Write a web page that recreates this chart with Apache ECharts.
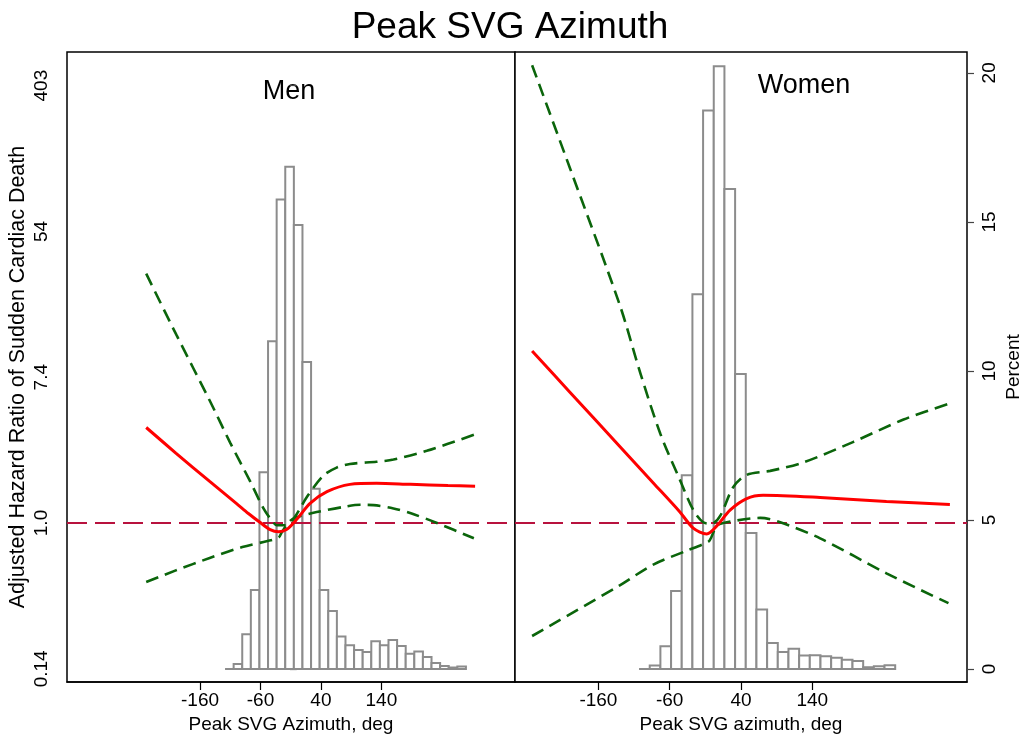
<!DOCTYPE html>
<html><head><meta charset="utf-8">
<script src="https://cdn.jsdelivr.net/npm/echarts@6/dist/echarts.min.js"></script>
<style>html,body{margin:0;padding:0;background:#fff}#c{width:1020px;height:738px}</style>
</head><body><div id="c"></div>
<script>
// ---- text ----
const chartTitle = 'Peak SVG Azimuth';
const panelNames = ['Men', 'Women'];
const xAxisNames = ['Peak SVG Azimuth, deg', 'Peak SVG azimuth, deg'];
const yLeftName = 'Adjusted Hazard Ratio of Sudden Cardiac Death';
const yRightName = 'Percent';

// ---- ticks ----
const xTicks = [-160, -60, 40, 140];
const hrTickLog = [-2, 0, 2, 4, 6];            // ln(HR)
const hrTickLabels = ['0.14', '1.0', '7.4', '54', '403'];
const pctTicks = [0, 5, 10, 15, 20];

// ---- histograms (percent per bin) ----
const menBinStart = -118.6, menBinWidth = 14.23;
const menPct = [0, 0.17, 1.17, 2.65, 6.6, 11.0, 15.75, 16.85, 14.9, 10.3, 6.05, 2.65, 1.95, 1.09,
  0.8, 0.64, 0.57, 0.93, 0.8, 0.97, 0.77, 0.51, 0.59, 0.4, 0.2, 0.1, 0.05, 0.08];
const womenBinStart = -103, womenBinWidth = 14.97;
const womenPct = [0, 0.12, 0.76, 2.62, 6.5, 12.57, 18.74, 20.22, 16.1, 9.9, 4.56, 2.0, 0.87, 0.57,
  0.68, 0.45, 0.46, 0.43, 0.38, 0.31, 0.27, 0.06, 0.09, 0.13];

// ---- spline curves: [azimuth deg, ln(HR)] ----
const menFit = [[-249,1.31],[-200,0.96],[-144,0.57],[-100,0.27],[-80,0.13],[-61,0.01],[-44,-0.09],[-30,-0.12],
  [-17,-0.09],[0,0.05],[22,0.27],[50,0.43],[88,0.53],[132,0.545],[188,0.53],[250,0.515],[295,0.505]];
const menUpper = [[-249,3.42],[-199,2.58],[-144,1.68],[-110,1.10],[-77,0.57],[-55,0.20],[-41,0.03],[-33,-0.03],
  [-19,-0.03],[-5,0.06],[17,0.36],[44,0.65],[66,0.76],[88,0.81],[132,0.84],[160,0.87],[215,0.99],[293,1.21]];
const menLower = [[-249,-0.81],[-200,-0.65],[-144,-0.48],[-90,-0.33],[-50,-0.25],[-30,-0.20],[-25,-0.13],
  [-11,0.03],[0,0.08],[33,0.15],[77,0.22],[105,0.25],[127,0.245],[160,0.20],[190,0.13],[232,0.0],[293,-0.21]];

const womenFit = [[-253,2.36],[-200,1.795],[-130,1.05],[-83,0.55],[-46,0.155],[-27,-0.07],[-8,-0.15],[6,-0.04],
  [25,0.18],[48,0.335],[71,0.38],[151,0.35],[244,0.295],[333,0.255]];
const womenUpper = [[-253,6.28],[-200,4.87],[-130,2.99],[-101,2.05],[-73,1.22],[-46,0.60],[-27,0.18],[-13,0.01],
  [-1,-0.01],[11,0.10],[29,0.49],[48,0.66],[81,0.715],[127,0.83],[197,1.11],[268,1.42],[333,1.64]];
const womenLower = [[-253,-1.55],[-130,-0.855],[-83,-0.57],[-36,-0.38],[-13,-0.29],[-4,-0.24],[6,-0.04],
  [20,0.01],[67,0.07],[95,0.01],[151,-0.21],[244,-0.69],[331,-1.1]];

// ---- styling / layout ----
const FONT = 'Liberation Sans, Arial, sans-serif';
const xRanges = [[-380, 361], [-277, 357]];
const lnRange = [-2.181, 6.461];
const pctRange = [-0.436, 20.70];

function histRender(start, width) {
  return function (params, api) {
    const i = api.value(0), pct = api.value(1);
    const p0 = api.coord([start + i * width, 0]);
    const p1 = api.coord([start + (i + 1) * width, pct]);
    return {
      type: 'rect',
      shape: { x: p0[0], y: p1[1], width: p1[0] - p0[0], height: p0[1] - p1[1] },
      style: { fill: '#ffffff', stroke: '#8c8c8c', lineWidth: 2 }
    };
  };
}
const hrFmt = v => { const i = hrTickLog.findIndex(t => Math.abs(t - v) < 1e-6); return i >= 0 ? hrTickLabels[i] : ''; };

function xAxisDef(k) {
  return {
    type: 'value', gridIndex: k, min: xRanges[k][0], max: xRanges[k][1],
    name: xAxisNames[k], nameLocation: 'middle', nameGap: 32,
    nameTextStyle: { fontSize: 19, fontFamily: FONT, color: '#000' },
    axisLine: { show: true, onZero: false, lineStyle: { color: '#000', width: 1.5 } },
    axisTick: { show: true, length: 8, customValues: xTicks, lineStyle: { color: '#000', width: 1.2 } },
    axisLabel: { customValues: xTicks, fontSize: 19, fontFamily: FONT, color: '#000', margin: 9 },
    splitLine: { show: false }
  };
}

const dashGreen = { color: '#0b650b', width: 2.6, type: [13, 7] };
function curve(data, xi, yi, style, extra) {
  return Object.assign({
    type: 'line', xAxisIndex: xi, yAxisIndex: yi, data: data, showSymbol: false, symbol: 'none',
    smooth: 0.3, lineStyle: style, z: 5, silent: true
  }, extra || {});
}
const refLine = {
  silent: true, symbol: ['none', 'none'], label: { show: false },
  lineStyle: { color: '#b8123e', width: 1.8, type: [20, 8] },
  data: [{ yAxis: 0 }]
};

const option = {
  backgroundColor: '#fff',
  animation: false,
  title: { text: chartTitle, left: 'center', top: 4,
    textStyle: { fontSize: 37, fontWeight: 'normal', fontFamily: FONT, color: '#000' } },
  graphic: [
    { type: 'text', x: 289, y: 92, style: { text: panelNames[0], fontSize: 27, fontFamily: FONT, fill: '#000', align: 'center', verticalAlign: 'middle' } },
    { type: 'text', x: 804, y: 86, style: { text: panelNames[1], fontSize: 27, fontFamily: FONT, fill: '#000', align: 'center', verticalAlign: 'middle' } }
  ],
  grid: [
    { left: 67, right: 505, top: 52, bottom: 56, show: true, borderColor: '#000', borderWidth: 1.5, backgroundColor: '#fff', containLabel: false, outerBoundsMode: 'none' },
    { left: 515, right: 53, top: 52, bottom: 56, show: true, borderColor: '#000', borderWidth: 1.5, backgroundColor: '#fff', containLabel: false, outerBoundsMode: 'none' }
  ],
  xAxis: [xAxisDef(0), xAxisDef(1)],
  yAxis: [
    { type: 'value', gridIndex: 0, position: 'left', min: lnRange[0], max: lnRange[1],
      name: yLeftName, nameLocation: 'middle', nameGap: 38, nameRotate: 90,
      nameTextStyle: { fontSize: 21.5, fontFamily: FONT, color: '#000', padding: [0, 20, 0, 0] },
      axisLine: { show: false },
      axisTick: { show: true, length: 7, customValues: hrTickLog, lineStyle: { color: '#444', width: 1.2 } },
      axisLabel: { customValues: hrTickLog, formatter: hrFmt, rotate: 90, fontSize: 19, fontFamily: FONT, color: '#000', margin: 16 },
      splitLine: { show: false } },
    { type: 'value', gridIndex: 0, position: 'right', min: pctRange[0], max: pctRange[1], show: false, splitLine: { show: false } },
    { type: 'value', gridIndex: 1, position: 'left', min: lnRange[0], max: lnRange[1], show: false, splitLine: { show: false } },
    { type: 'value', gridIndex: 1, position: 'right', min: pctRange[0], max: pctRange[1],
      name: yRightName, nameLocation: 'middle', nameGap: 37, nameRotate: 90,
      nameTextStyle: { fontSize: 19, fontFamily: FONT, color: '#000' },
      axisLine: { show: false },
      axisTick: { show: true, length: 7, customValues: pctTicks, lineStyle: { color: '#444', width: 1.2 } },
      axisLabel: { customValues: pctTicks, rotate: 90, fontSize: 19, fontFamily: FONT, color: '#000', margin: 13 },
      splitLine: { show: false } }
  ],
  series: [
    { type: 'custom', xAxisIndex: 0, yAxisIndex: 1, renderItem: histRender(menBinStart, menBinWidth),
      data: menPct.map((v, i) => [i, v]), z: 1, silent: true, clip: true },
    { type: 'custom', xAxisIndex: 1, yAxisIndex: 3, renderItem: histRender(womenBinStart, womenBinWidth),
      data: womenPct.map((v, i) => [i, v]), z: 1, silent: true, clip: true },
    curve(menUpper, 0, 0, dashGreen),
    curve(menLower, 0, 0, dashGreen),
    curve(menFit, 0, 0, { color: '#ff0000', width: 3 }, { markLine: refLine, z: 6 }),
    curve(womenUpper, 1, 2, dashGreen),
    curve(womenLower, 1, 2, dashGreen),
    curve(womenFit, 1, 2, { color: '#ff0000', width: 3 }, { markLine: refLine, z: 6 })
  ]
};
const chart = echarts.init(document.getElementById('c'), null, { renderer: 'canvas' });
chart.setOption(option);
</script></body></html>
